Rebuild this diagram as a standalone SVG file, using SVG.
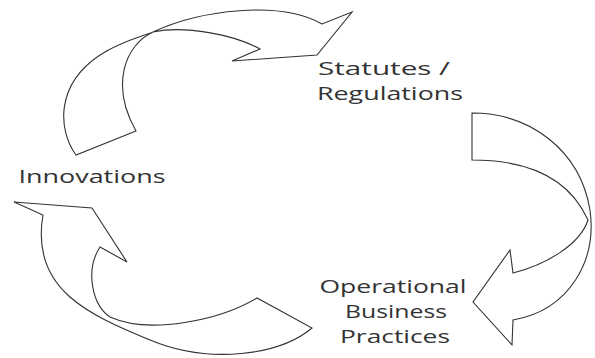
<svg xmlns="http://www.w3.org/2000/svg" width="595" height="358" viewBox="0 0 595 358">
<style>
.arr{fill:#fff;stroke:#333;stroke-width:1.1;stroke-linejoin:miter}
.lbl{font-family:"Open Sans","DejaVu Sans",sans-serif;font-size:18px;fill:#333}
</style>
<rect width="595" height="358" fill="#fff"/>
<g id="connectors">
<path id="arrow-top" class="arr" d="M76,155 C58,130 55,85 100,55 C120,42 140,37 153,32 C200,10 280,0 322,24 L352,12 L317,55 L232,61 L260,49 C235,35 185,25 153,32 C125,45 110,85 136,131 Z"/>
<path id="arrow-right" class="arr" d="M472,113 C530,113 580,150 590,210 C597,260 570,310 513,320 L512,345 L473,302 L510,250 L513,273 C545,265 580,245 588,220 C570,180 530,160 472,160 Z"/>
<path id="arrow-left" class="arr" d="M312,328 C280,355 210,365 150,340 C90,315 30,290 43,215 L14,202 L92,208 L127,262 L100,247 C85,270 92,305 110,317 C150,335 220,320 257,298 Z"/>
</g>
<g id="statutes">
<text class="lbl" x="384" y="75" text-anchor="middle" textLength="132" lengthAdjust="spacingAndGlyphs">Statutes /</text>
<text class="lbl" x="390" y="100" text-anchor="middle" textLength="146" lengthAdjust="spacingAndGlyphs">Regulations</text>
</g>
<g id="innovations">
<text class="lbl" x="92" y="183" text-anchor="middle" textLength="147" lengthAdjust="spacingAndGlyphs">Innovations</text>
</g>
<g id="operational">
<text class="lbl" x="393" y="293" text-anchor="middle" textLength="147" lengthAdjust="spacingAndGlyphs">Operational</text>
<text class="lbl" x="396" y="318" text-anchor="middle" textLength="102" lengthAdjust="spacingAndGlyphs">Business</text>
<text class="lbl" x="395" y="343" text-anchor="middle" textLength="110" lengthAdjust="spacingAndGlyphs">Practices</text>
</g>
</svg>
